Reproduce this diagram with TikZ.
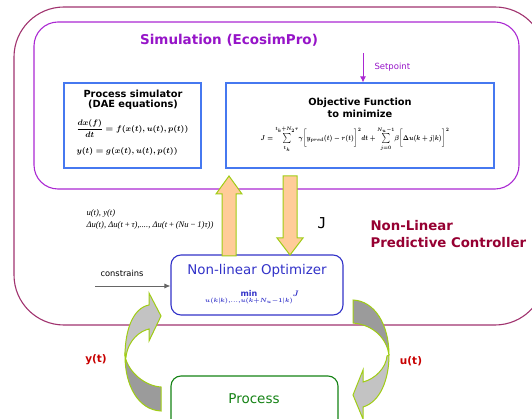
\documentclass[tikz,border=0pt]{standalone}
\usepackage{fontspec}
\setmainfont{DejaVu Sans}
\newfontfamily\monofnt{DejaVu Sans Mono}
\newfontfamily\timesfnt{Liberation Serif}
\usetikzlibrary{arrows.meta}

\definecolor{ctrlframe}{RGB}{160,50,110}
\definecolor{simframe}{RGB}{170,40,210}
\definecolor{simtext}{RGB}{150,20,200}
\definecolor{boxblue}{RGB}{70,120,240}
\definecolor{optblue}{RGB}{50,50,200}
\definecolor{procgreen}{RGB}{20,130,20}
\definecolor{ctrlred}{RGB}{150,0,50}
\definecolor{sigred}{RGB}{200,0,0}
\definecolor{fatfill}{RGB}{255,204,153}
\definecolor{fatedge}{RGB}{160,205,20}
\definecolor{twistdark}{RGB}{155,155,155}
\definecolor{twistlight}{RGB}{195,195,195}

\newcommand{\fsz}[1]{\fontsize{#1}{#1}\selectfont}

\begin{document}
\begin{tikzpicture}[x=1pt,y=-1pt,
    simbox/.style={draw=boxblue, line width=1.2pt, inner sep=0pt},
    optbox/.style={draw=optblue, line width=1.1pt, rounded corners=10, inner sep=0pt},
    procbox/.style={draw=procgreen, line width=1.1pt, rounded corners=10, inner sep=0pt},
    fatarrow/.style={fill=fatfill, draw=fatedge, line width=1pt},
    twist/.style={draw=fatedge, line width=1pt, fill=#1}]
    \useasboundingbox (0,0) rectangle (532,419);
    \clip (0,0) rectangle (532,419);

    % controller and simulation frames
    \draw[ctrlframe, line width=1.1pt, rounded corners=50] (14,7) rectangle (545,325);
    \draw[simframe, line width=1.1pt, rounded corners=24] (34,22) rectangle (519,189);

    \node[font=\bfseries\fsz{13.5}, text=simtext] (simtitle) at (229,40) {Simulation (EcosimPro)};

    % blocks
    \node[simbox, minimum width=137, minimum height=85] (procsim) at (132.5,125.5) {};
    \node[simbox, minimum width=268, minimum height=85] (objfun) at (360,125.5) {};
    \node[optbox, minimum width=172, minimum height=60] (optim) at (257,285) {};
    \node[procbox, minimum width=167, minimum height=60] (plant) at (254.5,406) {};

    % process simulator
    \node[anchor=base, font=\bfseries\fsz{9.8}] (procsimtitle) at (133,98) {Process simulator};
    \node[anchor=base, font=\bfseries\fsz{9.8}] (daetitle) at (133,107.5) {(DAE equations)};
    \node[anchor=west, font=\boldmath\fsz{7.6}] (daeone) at (73,128.5)
        {$\displaystyle\frac{dx(f)}{dt} = f(x(t),u(t),p(t))$};
    \node[anchor=west, font=\boldmath\fsz{7.6}] (daetwo) at (73,152)
        {$y(t) = g(x(t),u(t),p(t))$};

    % objective function
    \node[anchor=base, font=\bfseries\fsz{9.8}] (objtitle) at (360,105.5) {Objective Function};
    \node[anchor=base, font=\bfseries\fsz{9.8}] (objsub) at (360,118) {to minimize};
    \node[font=\boldmath\fsz{6.6}, xscale=0.82, transform shape] (objeq) at (355,139)
        {$J = \sum\limits_{t_k}^{t_k+N_2\tau}\!\gamma\bigl[y_{pred}(t)-r(t)\bigr]^2 dt
          + \sum\limits_{j=0}^{N_u-1}\!\beta\bigl[\Delta u(k+j|k)\bigr]^2$};

    % setpoint
    \coordinate (spin) at (363,53);
    \draw[simframe, line width=0.9pt, -{Latex[length=6pt,width=6pt]}] (spin) -- (spin |- objfun.north);
    \node[anchor=west, font=\fsz{8.5}, text=simtext] (spname) at (371,67) {Setpoint};

    % data exchange with the optimizer
    \coordinate (upfoot) at (229,256);
    \draw[fatarrow] (upfoot) ++(-7,0) -- ++(0,-62) -- ++(-6,0) -- ++(13,-18)
        -- ++(13,18) -- ++(-6,0) -- ++(0,62) -- cycle;
    \coordinate (downtop) at (290,176);
    \draw[fatarrow] (downtop) ++(-7,0) -- ++(0,62) -- ++(-6,0) -- ++(13,17)
        -- ++(13,-17) -- ++(-6,0) -- ++(0,-62) -- cycle;

    \node[anchor=west, font=\timesfnt\itshape\fsz{8.6}] (uyvars) at (83,213) {u(t), y(t)};
    \node[anchor=west, font=\timesfnt\itshape\fsz{8.6}] (duvars) at (83,225.5)
        {Δu(t), Δu(t\,+\,τ),...., Δu(t\,+\,(Nu\,−\,1)τ))};
    \node[font=\monofnt\fsz{15}] (jcost) at (322,223) {J};

    \node[anchor=west, align=left, font=\bfseries\fsz{13.3}, text=ctrlred] (nlpc) at (367,234)
        {Non-Linear\\[3pt]Predictive Controller};

    % optimizer
    \node[font=\fsz{13.4}, text=optblue] (opttitle) at (257,271) {Non-linear Optimizer};
    \node[font=\boldmath\fsz{8}, text=optblue] (optmin) at (252,298)
        {$\min\limits_{u(k|k),\dots,u(k+N_u-1|k)}\!J$};

    \coordinate (cstart) at (95,286);
    \draw[black!60, line width=0.8pt, -{Latex[length=6pt,width=5pt]}] (cstart) -- (cstart -| optim.west);
    \node[font=\fsz{8.3}] (cname) at (122,273) {constrains};

    % process
    \node[font=\fsz{13.5}, text=procgreen] (plantname) at (254,399) {Process};

    % feedback loop
    \draw[twist=twistdark] (161,387) -- (161,411) .. controls (138,410) and (125,385) .. (125,356)
        .. controls (128,372) and (145,386) .. (161,387) -- cycle;
    \draw[twist=twistlight] (125,356) .. controls (125,330) and (133,308) .. (149,305)
        -- (149,293) -- (161,316) -- (149,341) -- (149,329)
        .. controls (140,331) and (128,340) .. (126,357) -- cycle;

    \draw[twist=twistdark] (353,300) .. controls (375,301) and (389,325) .. (389,355)
        .. controls (387,340) and (375,325) .. (353,323) -- cycle;
    \draw[twist=twistlight] (389,355) .. controls (389,380) and (380,402) .. (363,407)
        -- (363,419) -- (353,395) -- (363,370) -- (363,382)
        .. controls (375,379) and (386,368) .. (387,356) -- cycle;

    \node[font=\bfseries\fsz{10.5}, text=sigred] (ysig) at (96,360) {y(t)};
    \node[font=\bfseries\fsz{10.5}, text=sigred] (usig) at (411,361) {u(t)};
\end{tikzpicture}
\end{document}
